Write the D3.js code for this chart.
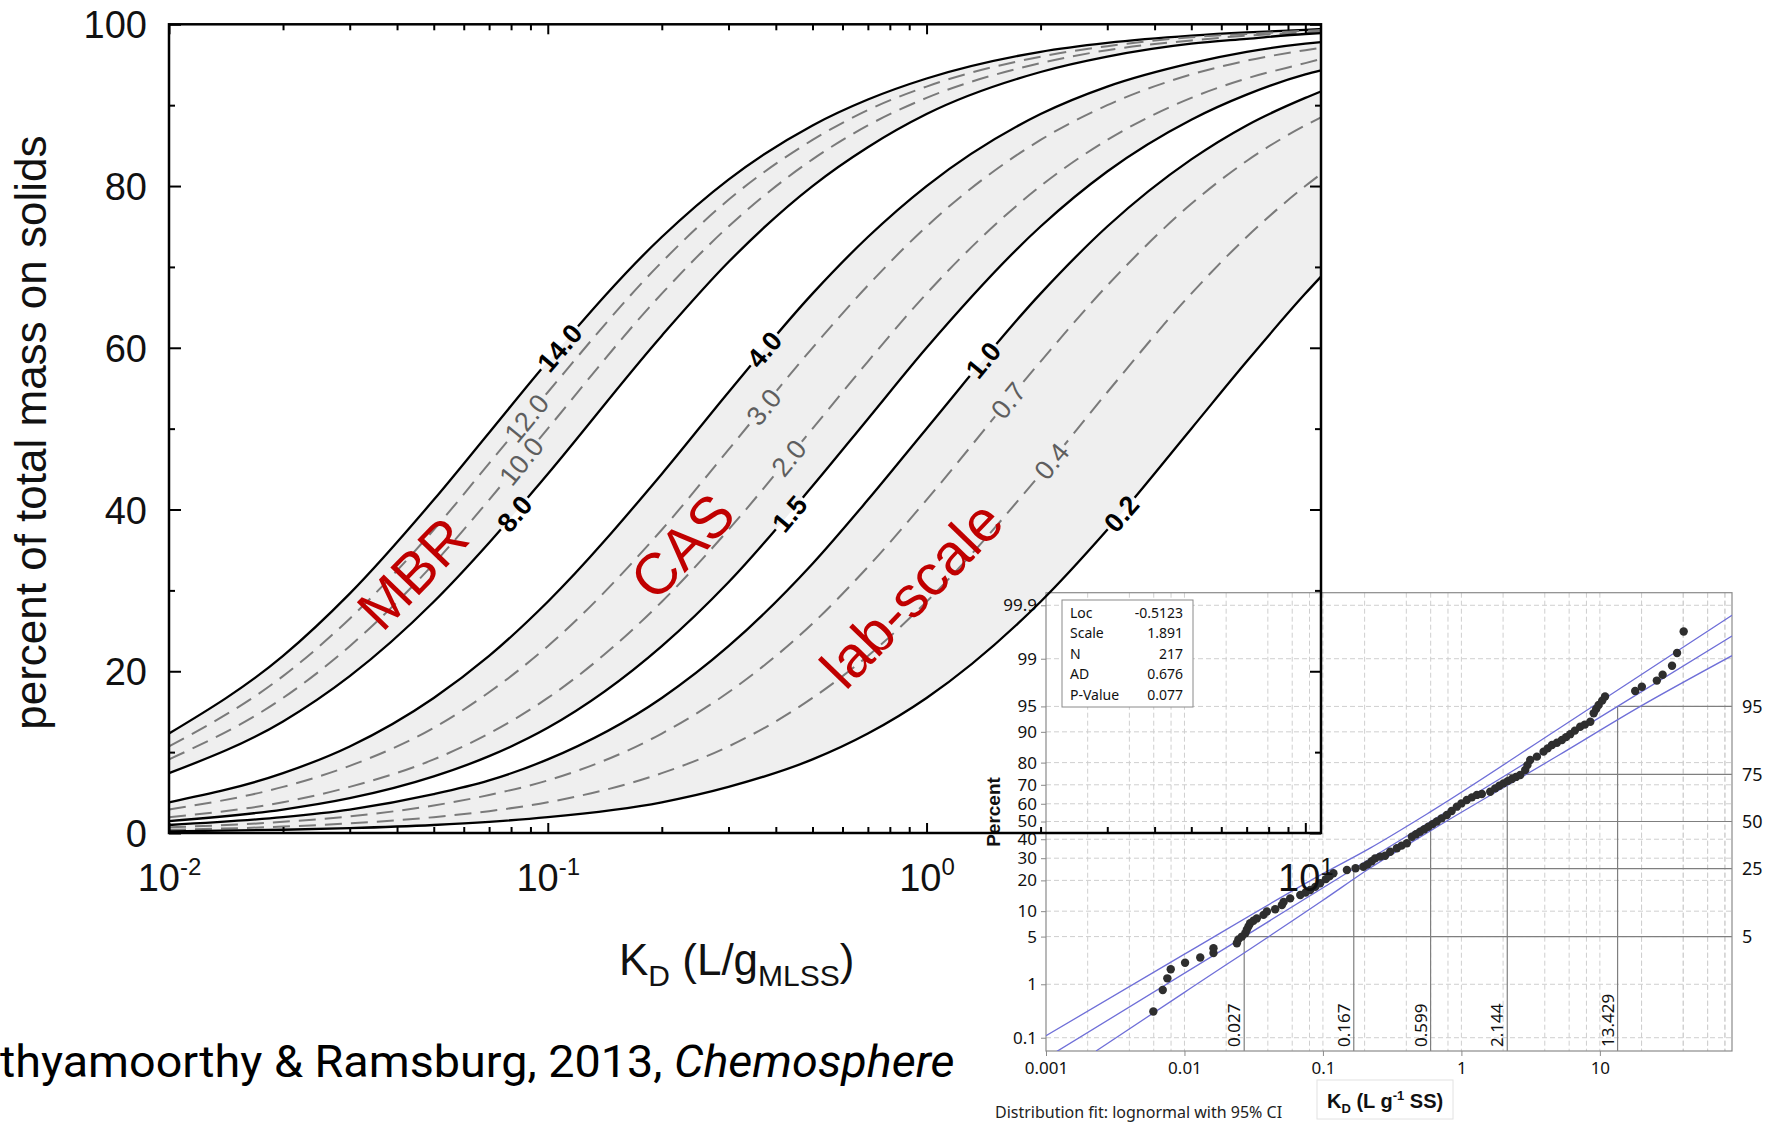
<!DOCTYPE html>
<html>
<head>
<meta charset="utf-8">
<script src="https://cdn.jsdelivr.net/npm/d3@7"></script>
<style>
body { margin: 0; background: #fff; }
svg { display: block; }
</style>
</head>
<body>
<svg id="fig" width="1773" height="1124"></svg>
<script>
// ---- main chart data: % of total mass on solids vs KD, one curve per MLSS (g/L)
var kdGrid = [0.01, 0.02, 0.03, 0.05, 0.07, 0.1, 0.2, 0.3, 0.5, 0.7, 1, 2, 3, 5, 7, 10, 11];
var mlss = [14, 12, 10, 8, 4, 3, 2, 1.5, 1.0, 0.7, 0.4, 0.2];
var mlssLabels = ["14.0", "12.0", "10.0", "8.0", "4.0", "3.0", "2.0", "1.5", "1.0", "0.7", "0.4", "0.2"];
var mlssDashed = [false, true, true, false, false, true, true, false, false, true, true, false];
var pctOnSolids = [
    [12.3, 21.9, 29.6, 41.2, 49.5, 58.3, 73.7, 80.8, 87.5, 90.7, 93.3, 96.6, 97.7, 98.6, 99.0, 99.3, 99.4],
    [10.7, 19.4, 26.5, 37.5, 45.7, 54.5, 70.6, 78.3, 85.7, 89.4, 92.3, 96.0, 97.3, 98.4, 98.8, 99.2, 99.3],
    [9.1, 16.7, 23.1, 33.3, 41.2, 50.0, 66.7, 75.0, 83.3, 87.5, 90.9, 95.2, 96.8, 98.0, 98.6, 99.0, 99.1],
    [7.4, 13.8, 19.4, 28.6, 35.9, 44.4, 61.5, 70.6, 80.0, 84.8, 88.9, 94.1, 96.0, 97.6, 98.2, 98.8, 98.9],
    [3.8, 7.4, 10.7, 16.7, 21.9, 28.6, 44.4, 54.5, 66.7, 73.7, 80.0, 88.9, 92.3, 95.2, 96.6, 97.6, 97.8],
    [2.9, 5.7, 8.3, 13.0, 17.4, 23.1, 37.5, 47.4, 60.0, 67.7, 75.0, 85.7, 90.0, 93.8, 95.5, 96.8, 97.1],
    [1.96, 3.8, 5.7, 9.1, 12.3, 16.7, 28.6, 37.5, 50.0, 58.3, 66.7, 80.0, 85.7, 90.9, 93.3, 95.2, 95.7],
    [1.48, 2.9, 4.3, 7.0, 9.5, 13.0, 23.1, 31.0, 42.9, 51.2, 60.0, 75.0, 81.8, 88.2, 91.3, 93.8, 94.3],
    [0.99, 1.96, 2.9, 4.8, 6.5, 9.1, 16.7, 23.1, 33.3, 41.2, 50.0, 66.7, 75.0, 83.3, 87.5, 90.9, 91.7],
    [0.70, 1.38, 2.06, 3.4, 4.7, 6.5, 12.3, 17.4, 25.9, 32.9, 41.2, 58.3, 67.7, 77.8, 83.1, 87.5, 88.5],
    [0.40, 0.79, 1.19, 1.96, 2.7, 3.8, 7.4, 10.7, 16.7, 21.9, 28.6, 44.4, 54.5, 66.7, 73.7, 80.0, 81.5],
    [0.20, 0.40, 0.60, 0.99, 1.38, 1.96, 3.8, 5.7, 9.1, 12.3, 16.7, 28.6, 37.5, 50.0, 58.3, 66.7, 68.8]
];
var labelAtPct = [60, 51.3, 46, 39.5, 59.8, 52.7, 46.4, 39.5, 58.5, 53.5, 46, 39.5];
// shaded regimes: [upper curve, lower curve]
var regimeBands = [[0, 3], [4, 7], [8, 11]];
var regimeNames = ["MBR", "CAS", "lab-scale"];
var regimeKd = [0.0438, 0.226, 0.91];
var regimePct = [32.2, 35.5, 29.6];
var mainYTicks = [0, 20, 40, 60, 80, 100];
var mainXDecades = [0.01, 0.1, 1, 10];
var mainXExp = ["-2", "-1", "0", "1"];

// ---- inset data: lognormal probability plot of KD
var probTicks = [0.1, 1, 5, 10, 20, 30, 40, 50, 60, 70, 80, 90, 95, 99, 99.9];
var insetDecades = [0.001, 0.01, 0.1, 1, 10];
var insetDecadeLabels = ["0.001", "0.01", "0.1", "1", "10"];
var refPct = [5, 25, 50, 75, 95];
var refKd = [0.027, 0.167, 0.599, 2.144, 13.429];
var refKdLabels = ["0.027", "0.167", "0.599", "2.144", "13.429"];
var fitStatNames = ["Loc", "Scale", "N", "AD", "P-Value"];
var fitStatValues = ["-0.5123", "1.891", "217", "0.676", "0.077"];
var fitKd = [0.0012, 0.027, 0.167, 0.599, 2.144, 13.429, 90];
var fitPct = [0.051, 5, 25, 50, 75, 95, 99.6];
var ciUpperKd = [0.001, 0.01, 0.1, 0.219, 0.6, 5, 90];
var ciUpperPct = [0.11, 2.9, 22.8, 35.2, 55.6, 90.7, 99.84];
var ciLowerKd = [0.0023, 0.01, 0.1, 0.219, 0.6, 5, 19.6, 90];
var ciLowerPct = [0.052, 0.73, 13.0, 25.3, 44.8, 82.7, 95, 99.11];
var sampleKd = [0.00596, 0.00697, 0.00752, 0.00796, 0.0101, 0.013, 0.0162, 0.0162, 0.0239, 0.0245,
    0.026, 0.0275, 0.0282, 0.029, 0.0298, 0.0315, 0.0333, 0.0372, 0.0394, 0.0452,
    0.0505, 0.052, 0.058, 0.0686, 0.075, 0.081, 0.088, 0.0955, 0.105, 0.112,
    0.119, 0.149, 0.172, 0.196, 0.21, 0.225, 0.238, 0.259, 0.281, 0.306,
    0.342, 0.37, 0.404, 0.439, 0.47, 0.503, 0.54, 0.578, 0.62, 0.665,
    0.72, 0.785, 0.85, 0.927, 1.0, 1.094, 1.19, 1.293, 1.405, 1.614,
    1.753, 1.88, 2.014, 2.16, 2.315, 2.48, 2.66, 2.89, 3.0, 3.14,
    3.51, 3.92, 4.2, 4.51, 4.9, 5.32, 5.7, 6.11, 6.6, 7.21,
    7.8, 8.53, 9.02, 9.4, 9.8, 10.4, 10.9, 18.0, 20.1, 25.8,
    28.4, 33.2, 36.1, 40.3];
var samplePct = [0.33, 0.80, 1.25, 1.74, 2.18, 2.6, 3.0, 3.5, 4.1, 4.6,
    5.0, 5.5, 6.1, 6.7, 7.3, 7.8, 8.3, 9.1, 9.9, 10.5,
    11.6, 12.5, 13.6, 14.7, 15.5, 16.4, 17.5, 18.9, 20.5, 21.8,
    23.0, 24.4, 25.2, 25.9, 27.0, 28.5, 29.9, 30.8, 31.2, 33.3,
    35.1, 36.5, 37.8, 41.4, 42.8, 44.2, 45.6, 47.0, 48.5, 50.0,
    51.8, 53.7, 56.0, 58.4, 60.2, 62.1, 63.5, 64.8, 65.3, 66.5,
    68.2, 69.5, 70.7, 71.8, 72.8, 73.8, 74.7, 76.9, 79.0, 81.0,
    82.3, 84.1, 85.2, 86.3, 87.0, 87.8, 88.6, 89.4, 90.3, 91.2,
    91.7, 92.3, 93.9, 94.6, 95.2, 95.8, 96.3, 96.9, 97.3, 97.8,
    98.2, 98.7, 99.2, 99.67];

// inverse standard normal CDF (probability-paper axis)
function probit(p) {
    var a = [-3.969683028665376e+01, 2.209460984245205e+02, -2.759285104469687e+02, 1.383577518672690e+02, -3.066479806614716e+01, 2.506628277459239e+00];
    var b = [-5.447609879822406e+01, 1.615858368580409e+02, -1.556989798598866e+02, 6.680131188771972e+01, -1.328068155288572e+01];
    var c = [-7.784894002430293e-03, -3.223964580411365e-01, -2.400758277161838e+00, -2.549732539343734e+00, 4.374664141464968e+00, 2.938163982698783e+00];
    var d = [7.784695709041462e-03, 3.224671290700398e-01, 2.445134137142996e+00, 3.754408661907416e+00];
    var pl = 0.02425, q, r;
    if (p < pl) {
        q = Math.sqrt(-2 * Math.log(p));
        return (((((c[0] * q + c[1]) * q + c[2]) * q + c[3]) * q + c[4]) * q + c[5]) / ((((d[0] * q + d[1]) * q + d[2]) * q + d[3]) * q + 1);
    }
    if (p > 1 - pl) {
        q = Math.sqrt(-2 * Math.log(1 - p));
        return -(((((c[0] * q + c[1]) * q + c[2]) * q + c[3]) * q + c[4]) * q + c[5]) / ((((d[0] * q + d[1]) * q + d[2]) * q + d[3]) * q + 1);
    }
    q = p - 0.5; r = q * q;
    return (((((a[0] * r + a[1]) * r + a[2]) * r + a[3]) * r + a[4]) * r + a[5]) * q / (((((b[0] * r + b[1]) * r + b[2]) * r + b[3]) * r + b[4]) * r + 1);
}

var svg = d3.select("#fig");
var defs = svg.append("defs");

var ARIAL = "'Liberation Sans', Arial, sans-serif";
var INSET_FONT = "'Noto Sans', 'Open Sans', sans-serif";

// scales of the main chart (its shaded bands go under the inset, the rest on top)
var xM = d3.scaleLog().domain([0.01, 11]).range([169, 1321]);
var yM = d3.scaleLinear().domain([0, 100]).range([833, 24.3]);
var ml = xM.range()[0], mr = xM.range()[1], mt = yM.range()[1], mb = yM.range()[0];

var bandG = svg.append("g");
var band = d3.area().x(function (d) { return xM(d[0]); })
    .y0(function (d) { return yM(d[2]); }).y1(function (d) { return yM(d[1]); })
    .curve(d3.curveMonotoneX);
regimeBands.forEach(function (b) {
    var rows = kdGrid.map(function (k, j) { return [k, pctOnSolids[b[0]][j], pctOnSolids[b[1]][j]]; });
    bandG.append("path").attr("d", band(rows)).attr("fill", "#efefef");
});

// ================= inset =================
var xi = d3.scaleLog().domain([0.001, 90]).range([1046, 1732]);
var zi = d3.scaleLinear().domain([-3.28, 3.27]).range([1051, 592.7]);
function yi(p) { return zi(probit(p / 100)); }

var ins = svg.append("g").attr("class", "inset");
var il = xi.range()[0], ir = xi.range()[1], it = zi.range()[1], ib = zi.range()[0];

defs.append("clipPath").attr("id", "insetClip")
    .append("rect").attr("x", il).attr("y", it).attr("width", ir - il).attr("height", ib - it);

// grid
var gridKd = [];
insetDecades.forEach(function (d) { [1, 2, 4, 6, 8].forEach(function (m) { var v = d * m; if (v > 0.001 && v < 90) gridKd.push(v); }); });
[20, 40, 60, 80].forEach(function (v) { gridKd.push(v); });
ins.append("g").selectAll("line").data(gridKd).enter().append("line")
    .attr("x1", function (d) { return xi(d); }).attr("x2", function (d) { return xi(d); })
    .attr("y1", it).attr("y2", ib)
    .attr("stroke", "#cfcfcf").attr("stroke-dasharray", "5 3").attr("stroke-width", 1);
ins.append("g").selectAll("line").data(probTicks).enter().append("line")
    .attr("x1", il).attr("x2", ir)
    .attr("y1", function (d) { return yi(d); }).attr("y2", function (d) { return yi(d); })
    .attr("stroke", "#cfcfcf").attr("stroke-dasharray", "5 3").attr("stroke-width", 1);

// percentile reference lines
refPct.forEach(function (p, i) {
    ins.append("line").attr("x1", xi(refKd[i])).attr("x2", ir).attr("y1", yi(p)).attr("y2", yi(p))
        .attr("stroke", "#7f7f7f").attr("stroke-width", 1.2);
    ins.append("line").attr("x1", xi(refKd[i])).attr("x2", xi(refKd[i])).attr("y1", yi(p)).attr("y2", ib)
        .attr("stroke", "#7f7f7f").attr("stroke-width", 1.2);
    ins.append("text").attr("x", ir + 10).attr("y", yi(p)).attr("dy", "0.35em")
        .attr("font-family", INSET_FONT).attr("font-size", 18).attr("fill", "#111").text(refPct[i]);
    ins.append("text")
        .attr("transform", "translate(" + (xi(refKd[i]) - 4) + "," + (ib - 4) + ") rotate(-90)")
        .attr("font-family", INSET_FONT).attr("font-size", 17).attr("fill", "#111").text(refKdLabels[i]);
});

// frame
ins.append("rect").attr("x", il).attr("y", it).attr("width", ir - il).attr("height", ib - it)
    .attr("fill", "none").attr("stroke", "#8a8a8a").attr("stroke-width", 1.2);

// fit + CI
var probLine = d3.line().x(function (d) { return xi(d[0]); }).y(function (d) { return yi(d[1]); });
var lineG = ins.append("g").attr("clip-path", "url(#insetClip)");
[[fitKd, fitPct], [ciUpperKd, ciUpperPct], [ciLowerKd, ciLowerPct]].forEach(function (s, k) {
    lineG.append("path")
        .attr("d", probLine.curve(k === 0 ? d3.curveLinear : d3.curveMonotoneX)(s[0].map(function (v, j) { return [v, s[1][j]]; })))
        .attr("fill", "none").attr("stroke", "#6f6fd8").attr("stroke-width", 1.3);
});

// sample points
lineG.append("g").selectAll("circle").data(sampleKd).enter().append("circle")
    .attr("cx", function (d) { return xi(d); })
    .attr("cy", function (d, j) { return yi(samplePct[j]); })
    .attr("r", 4.2).attr("fill", "#2e2e2e");

// axes
var iyAxis = ins.append("g").attr("transform", "translate(" + il + ",0)")
    .call(d3.axisLeft(zi).tickValues(probTicks.map(function (p) { return probit(p / 100); }))
        .tickFormat(function (d, j) { return probTicks[j]; }).tickSize(5).tickSizeOuter(0));
var ixAxis = ins.append("g").attr("transform", "translate(0," + ib + ")")
    .call(d3.axisBottom(xi).tickValues(insetDecades)
        .tickFormat(function (d, j) { return insetDecadeLabels[j]; }).tickSize(5).tickSizeOuter(0));
[iyAxis, ixAxis].forEach(function (a) {
    a.select(".domain").remove();
    a.selectAll(".tick line").attr("stroke", "#8a8a8a");
    a.selectAll("text").attr("font-family", INSET_FONT).attr("font-size", 17).attr("fill", "#111");
});
iyAxis.selectAll("text").attr("x", -9);
ixAxis.selectAll("text").attr("y", 11);

// axis titles
ins.append("text").attr("transform", "translate(1000,812) rotate(-90)")
    .attr("text-anchor", "middle").attr("font-family", ARIAL).attr("font-weight", "bold")
    .attr("font-size", 19).attr("fill", "#111").text("Percent");
ins.append("rect").attr("x", 1317).attr("y", 1080).attr("width", 136).attr("height", 39)
    .attr("fill", "#fff").attr("stroke", "#e2e2e2");
var ixt = ins.append("text").attr("x", 1327).attr("y", 1108)
    .attr("font-family", ARIAL).attr("font-weight", "bold").attr("font-size", 20).attr("fill", "#111");
ixt.append("tspan").text("K");
ixt.append("tspan").attr("dy", 5).attr("font-size", 13).text("D");
ixt.append("tspan").attr("dy", -5).text(" (L g");
ixt.append("tspan").attr("dy", -8).attr("font-size", 13).text("-1");
ixt.append("tspan").attr("dy", 8).text(" SS)");
ins.append("text").attr("x", 995).attr("y", 1118)
    .attr("font-family", INSET_FONT).attr("font-size", 16).attr("fill", "#222")
    .text("Distribution fit: lognormal with 95% CI");

// statistics box
var box = ins.append("g");
box.append("rect").attr("x", 1062).attr("y", 600).attr("width", 131).attr("height", 107)
    .attr("fill", "#fff").attr("stroke", "#8a8a8a").attr("stroke-width", 1);
fitStatNames.forEach(function (n, j) {
    box.append("text").attr("x", 1070).attr("y", 613 + j * 20.4).attr("dy", "0.35em")
        .attr("font-family", INSET_FONT).attr("font-size", 14).attr("fill", "#111").text(n);
    box.append("text").attr("x", 1183).attr("y", 613 + j * 20.4).attr("dy", "0.35em").attr("text-anchor", "end")
        .attr("font-family", INSET_FONT).attr("font-size", 14).attr("fill", "#111").text(fitStatValues[j]);
});

// ================= main chart (on top of the inset) =================
var main = svg.append("g").attr("class", "main");
var curveData = pctOnSolids.map(function (row) { return kdGrid.map(function (k, j) { return [k, row[j]]; }); });

// curves (cut where their labels sit)
var mask = defs.append("mask").attr("id", "lblMask").attr("maskUnits", "userSpaceOnUse")
    .attr("x", 0).attr("y", 0).attr("width", 1773).attr("height", 1124);
mask.append("rect").attr("width", 1773).attr("height", 1124).attr("fill", "#fff");

var curveLine = d3.line().x(function (d) { return xM(d[0]); }).y(function (d) { return yM(d[1]); })
    .curve(d3.curveMonotoneX);
var curves = main.append("g").attr("mask", "url(#lblMask)").selectAll("path").data(curveData).enter().append("path")
    .attr("d", curveLine)
    .attr("fill", "none")
    .attr("stroke", function (d, i) { return mlssDashed[i] ? "#7a7a7a" : "#000"; })
    .attr("stroke-width", function (d, i) { return mlssDashed[i] ? 2 : 2.3; })
    .attr("stroke-dasharray", function (d, i) { return mlssDashed[i] ? "17 9" : null; });

// curve labels placed on the rendered paths
var labelG = main.append("g");
curves.each(function (d, i) {
    var node = this, L = node.getTotalLength(), ty = yM(labelAtPct[i]);
    var lo = 0, hi = L;
    for (var n = 0; n < 40; n++) {
        var mid = (lo + hi) / 2;
        if (node.getPointAtLength(mid).y > ty) lo = mid; else hi = mid;
    }
    var p = node.getPointAtLength(lo),
        a = node.getPointAtLength(Math.max(0, lo - 8)),
        b = node.getPointAtLength(Math.min(L, lo + 8));
    var ang = Math.atan2(b.y - a.y, b.x - a.x) * 180 / Math.PI;
    var tr = "translate(" + p.x + "," + p.y + ") rotate(" + ang + ")";
    var t = labelG.append("text").attr("transform", tr)
        .attr("text-anchor", "middle").attr("dy", "0.36em")
        .attr("font-family", ARIAL).attr("font-size", 27)
        .attr("font-weight", mlssDashed[i] ? "normal" : "bold")
        .attr("fill", mlssDashed[i] ? "#5e5e5e" : "#000")
        .text(mlssLabels[i]);
    var bb = t.node().getBBox();
    mask.append("rect").attr("transform", tr)
        .attr("x", bb.x - 2).attr("y", bb.y + 5).attr("width", bb.width + 4).attr("height", bb.height - 10)
        .attr("fill", "#000");
});

// axes, ticks point inward
var minorKd = [];
[0.01, 0.1, 1, 10].forEach(function (d) { for (var m = 2; m <= 9; m++) if (d * m <= 11) minorKd.push(d * m); });
var minorPct = [10, 30, 50, 70, 90];

function styleAxis(g) { g.select(".domain").remove(); g.selectAll(".tick line").attr("stroke", "#000").attr("stroke-width", 2); }

main.append("g").attr("transform", "translate(0," + mb + ")")
    .call(d3.axisBottom(xM).tickValues(minorKd).tickSize(-6).tickFormat("")).call(styleAxis);
main.append("g").attr("transform", "translate(0," + mt + ")")
    .call(d3.axisTop(xM).tickValues(minorKd).tickSize(-6).tickFormat("")).call(styleAxis);
main.append("g").attr("transform", "translate(0," + mt + ")")
    .call(d3.axisTop(xM).tickValues(mainXDecades).tickSize(-10).tickFormat("")).call(styleAxis);
main.append("g").attr("transform", "translate(" + mr + ",0)")
    .call(d3.axisRight(yM).tickValues(minorPct).tickSize(-6).tickFormat("")).call(styleAxis);
main.append("g").attr("transform", "translate(" + mr + ",0)")
    .call(d3.axisRight(yM).tickValues(mainYTicks).tickSize(-11).tickFormat("")).call(styleAxis);
main.append("g").attr("transform", "translate(" + ml + ",0)")
    .call(d3.axisLeft(yM).tickValues(minorPct).tickSize(-6).tickFormat("")).call(styleAxis);

var yAx = main.append("g").attr("transform", "translate(" + ml + ",0)")
    .call(d3.axisLeft(yM).tickValues(mainYTicks).tickSize(-12).tickPadding(22)).call(styleAxis);
yAx.selectAll("text").attr("font-family", ARIAL).attr("font-size", 38).attr("fill", "#111").attr("dy", "0.36em");

var xAx = main.append("g").attr("transform", "translate(0," + mb + ")")
    .call(d3.axisBottom(xM).tickValues(mainXDecades).tickSize(-10)).call(styleAxis);
xAx.selectAll("text").each(function (d, j) {
    var t = d3.select(this).text("").attr("y", 0).attr("dy", null)
        .attr("transform", "translate(0,58)")
        .attr("font-family", ARIAL).attr("font-size", 38).attr("fill", "#111");
    t.append("tspan").text("10");
    t.append("tspan").attr("dy", -16).attr("font-size", 24).text(mainXExp[j]);
});

main.append("rect").attr("x", ml).attr("y", mt).attr("width", mr - ml).attr("height", mb - mt)
    .attr("fill", "none").attr("stroke", "#000").attr("stroke-width", 2.5);

// axis titles
main.append("text").attr("transform", "translate(46," + ((mt + mb) / 2 + 4) + ") rotate(-90)")
    .attr("text-anchor", "middle").attr("font-family", ARIAL).attr("font-size", 44).attr("fill", "#111")
    .text("percent of total mass on solids");
var xt = main.append("text").attr("x", 619).attr("y", 975)
    .attr("font-family", ARIAL).attr("font-size", 44).attr("fill", "#111");
xt.append("tspan").text("K");
xt.append("tspan").attr("dy", 11).attr("font-size", 30).text("D");
xt.append("tspan").attr("dy", -11).text(" (L/g");
xt.append("tspan").attr("dy", 11).attr("font-size", 30).text("MLSS");
xt.append("tspan").attr("dy", -11).text(")");

// regime names
regimeNames.forEach(function (n, j) {
    main.append("text")
        .attr("transform", "translate(" + xM(regimeKd[j]) + "," + yM(regimePct[j]) + ") rotate(-46)")
        .attr("text-anchor", "middle").attr("dy", "0.36em")
        .attr("font-family", ARIAL).attr("font-size", 58).attr("fill", "#c00000")
        .text(n);
});

// citation (left part runs off the page as in the slide)
var cite = svg.append("text").attr("y", 1077)
    .attr("font-family", "'Liberation Sans Narrow', 'Roboto', sans-serif").attr("font-size", 44).attr("fill", "#000");
cite.append("tspan").text("Sathyamoorthy & Ramsburg, 2013, ");
cite.append("tspan").attr("font-style", "italic").text("Chemosphere");
var full = cite.node().getComputedTextLength();
var probe = svg.append("text").attr("font-family", "'Liberation Sans Narrow', 'Roboto', sans-serif")
    .attr("font-size", 44).text("Sa");
var cut = probe.node().getComputedTextLength();
probe.remove();
var sx = 955 / (full - cut);
cite.attr("transform", "translate(" + (-cut * sx) + ",0) scale(" + sx + ",1)");
</script>
</body>
</html>
